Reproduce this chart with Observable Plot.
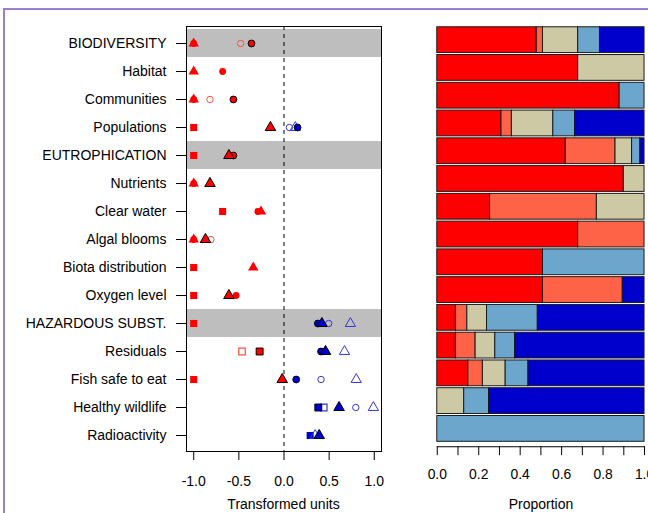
<!DOCTYPE html>
<html>
<head>
<meta charset="utf-8">
<script src="https://cdn.jsdelivr.net/npm/d3@7"></script>
<script src="https://cdn.jsdelivr.net/npm/@observablehq/plot@0.6"></script>
<style>
  html, body { margin: 0; padding: 0; background: #fff; overflow: hidden; }
  #wrap { position: relative; width: 648px; height: 513px; overflow: hidden; font-family: "Liberation Sans", Arial, sans-serif; }
  #left, #right { position: absolute; top: 0; }
  #left { left: 0; }
  #right { left: 410px; }
  .title { position: absolute; width: 200px; text-align: center; font-size: 14px; line-height: 16px; color: #000; top: 496px; }
  #purple { position: absolute; left: 3px; top: 8px; right: -10px; bottom: -10px; border-left: 2px solid #9a80cc; border-top: 2px solid #9a80cc; pointer-events: none; }
</style>
</head>
<body>
<div id="wrap">
  <div id="left"></div>
  <div id="right"></div>
  <div class="title" style="left:183.5px">Transformed units</div>
  <div class="title" style="left:441px">Proportion</div>
  <div id="purple"></div>
</div>
<script>
// ---------- data ----------
const rows = ["BIODIVERSITY", "Habitat", "Communities", "Populations", "EUTROPHICATION",
  "Nutrients", "Clear water", "Algal blooms", "Biota distribution", "Oxygen level",
  "HAZARDOUS SUBST.", "Residuals", "Fish safe to eat", "Healthy wildlife", "Radioactivity"];
const groupRows = ["BIODIVERSITY", "EUTROPHICATION", "HAZARDOUS SUBST."];

// left panel: transformed units per indicator type (null = absent)
const sqFilled    = [null, null, null, -1, -1, null, -0.68, null, -1, -1, -1, null, -1, null, 0.29];
const sqOutline   = [null, null, null, null, null, null, null, null, null, null, null, -0.27, null, 0.38, null];
const sqOpen      = [null, null, null, null, null, null, null, null, null, null, null, -0.465, null, 0.44, null];
const triFilled   = [-1, -1, -1, null, null, -1, -0.255, -1, -0.34, null, null, null, null, null, null];
const triOutline  = [null, null, null, -0.15, -0.61, -0.82, null, -0.87, null, -0.61, 0.42, 0.46, -0.02, 0.61, 0.39];
const triOpen     = [null, null, null, 0.125, null, null, null, null, null, null, 0.735, 0.67, 0.80, 0.99, 0.345];
const circFilled  = [-1, -0.68, -1, null, null, -1, -0.29, -1, null, -0.53, null, null, null, null, null];
const circOutline = [-0.36, null, -0.56, 0.15, -0.56, null, null, null, null, null, 0.375, 0.41, 0.135, null, null];
const circOpen    = [-0.48, null, -0.82, 0.06, null, null, null, -0.81, null, null, 0.495, null, 0.41, 0.795, null];

const xTicks = [-1, -0.5, 0, 0.5, 1];
const zeroLine = 0;

// right panel: proportions per class
const classes = ["class1", "class2", "class3", "class4", "class5"];
const classColors = ["#FF0000", "#FF6347", "#CDC9A5", "#6CA6CD", "#0000CD"];
const propClass1 = [0.48, 0.68, 0.88, 0.31, 0.62, 0.90, 0.255, 0.68, 0.51, 0.51, 0.09, 0.09, 0.15, 0, 0];
const propClass2 = [0.03, 0, 0, 0.05, 0.24, 0, 0.515, 0.32, 0, 0.385, 0.055, 0.095, 0.07, 0, 0];
const propClass3 = [0.17, 0.32, 0, 0.20, 0.08, 0.10, 0.23, 0, 0, 0, 0.095, 0.095, 0.11, 0.13, 0];
const propClass4 = [0.105, 0, 0.12, 0.105, 0.04, 0, 0, 0, 0.49, 0, 0.245, 0.095, 0.11, 0.12, 1];
const propClass5 = [0.215, 0, 0, 0.335, 0.02, 0, 0, 0, 0, 0.105, 0.515, 0.625, 0.56, 0.75, 0];
const propTicks = [0, 0.1, 0.2, 0.3, 0.4, 0.5, 0.6, 0.7, 0.8, 0.9, 1];

// ---------- build ----------
const RED = "#FF0000", BLUE = "#0000CD", RED_OPEN = "#FF4F3F", BLUE_OPEN = "#3535DA";

function dots(values, style) {
  const pts = rows.map((r, i) => ({row: r, v: values[i]})).filter(d => d.v != null);
  const neg = pts.filter(d => d.v < 0), pos = pts.filter(d => d.v >= 0);
  return [
    Plot.dot(neg, {x: "v", y: "row", ...style(RED, RED_OPEN)}),
    Plot.dot(pos, {x: "v", y: "row", ...style(BLUE, BLUE_OPEN)})
  ];
}

const font = "'Liberation Sans', Arial, Helvetica, sans-serif";

const left = Plot.plot({
  width: 410, height: 513,
  marginLeft: 186, marginRight: 29, marginTop: 26, marginBottom: 62,
  style: {fontFamily: font, fontSize: "14px", color: "#000", background: "transparent"},
  x: {domain: [-1.08, 1.08]},
  y: {domain: rows, range: [27.6, 449.7], padding: 0},
  marks: [
    Plot.cell(groupRows, {y: d => d, fill: "#BEBEBE"}),
    Plot.ruleX([zeroLine], {stroke: "#000", strokeDasharray: "4,4"}),
    ...dots(circFilled, (c) => ({symbol: "circle", r: 3.4, fill: c})),
    ...dots(sqFilled, (c) => ({symbol: "square", r: 4, fill: c})),
    ...dots(triFilled, (c) => ({symbol: "triangle", r: 3.9, fill: c})),
    ...dots(circOpen, (c, o) => ({symbol: "circle", r: 3.2, fill: "none", stroke: o, strokeWidth: 1})),
    ...dots(triOpen, (c, o) => ({symbol: "triangle", r: 3.8, fill: "none", stroke: o, strokeWidth: 1})),
    ...dots(sqOpen, (c, o) => ({symbol: "square", r: 3.7, fill: "none", stroke: o, strokeWidth: 1.2})),
    ...dots(sqOutline, (c) => ({symbol: "square", r: 3.9, fill: c, stroke: "#000", strokeWidth: 1})),
    ...dots(circOutline, (c) => ({symbol: "circle", r: 3.4, fill: c, stroke: "#000", strokeWidth: 1})),
    ...dots(triOutline, (c) => ({symbol: "triangle", r: 3.9, fill: c, stroke: "#000", strokeWidth: 1})),
    Plot.frame({stroke: "#000"}),
    Plot.axisY({tickSize: 10, tickPadding: 10, fontSize: 14, label: null}),
    Plot.axisX({ticks: xTicks, tickFormat: d => d.toFixed(1), tickSize: 9, tickPadding: 16, fontSize: 14, label: null})
  ]
});
document.getElementById("left").appendChild(left);

const barData = [];
const props = [propClass1, propClass2, propClass3, propClass4, propClass5];
rows.forEach((r, i) => {
  classes.forEach((c, k) => {
    if (props[k][i] > 0) barData.push({row: r, cls: c, value: props[k][i]});
  });
});

const right = Plot.plot({
  width: 240, height: 513,
  marginLeft: 27, marginRight: 4, marginTop: 25, marginBottom: 63,
  style: {fontFamily: font, fontSize: "14px", color: "#000", background: "transparent", overflow: "visible"},
  x: {domain: [0, 1], range: [27, 236]},
  y: {domain: rows, range: [25, 447.5], paddingInner: 0.08, paddingOuter: 0, axis: null},
  color: {domain: classes, range: classColors},
  marks: [
    Plot.barX(barData, {x: "value", y: "row", fill: "cls", stroke: "#1a1a1a", strokeWidth: 1}),
    Plot.frame({anchor: "bottom", stroke: "#000"}),
    Plot.axisX({ticks: propTicks, tickFormat: d => (Math.round(d * 10) % 2 === 0 ? d.toFixed(1) : ""),
      tickSize: 9, tickPadding: 14, fontSize: 14, label: null})
  ]
});
document.getElementById("right").appendChild(right);
</script>
</body>
</html>
